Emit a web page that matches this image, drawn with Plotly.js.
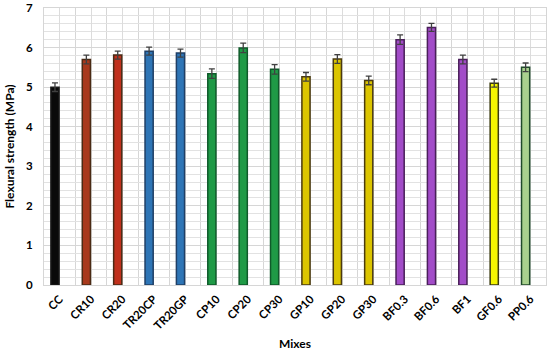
<!DOCTYPE html>
<html>
<head>
<meta charset="utf-8">
<script src="https://cdn.plot.ly/plotly-3.0.1.min.js"></script>
<style>html,body{margin:0;padding:0;background:#fff;}#chart{width:550px;height:351px;}</style>
</head>
<body>
<div id="chart"></div>
<script>
const categories = ["CC","CR10","CR20","TR20CP","TR20GP","CP10","CP20","CP30","GP10","GP20","GP30","BF0.3","BF0.6","BF1","GF0.6","PP0.6"];
const strength = [5.0, 5.70, 5.81, 5.91, 5.86, 5.34, 5.99, 5.45, 5.26, 5.71, 5.17, 6.20, 6.51, 5.70, 5.10, 5.50];
const errors = [0.11, 0.11, 0.10, 0.10, 0.10, 0.12, 0.12, 0.12, 0.11, 0.11, 0.11, 0.12, 0.10, 0.11, 0.10, 0.11];
const fillColors = ["#0a0a0a","#a8391c","#c0301c","#2e75b6","#2e75b6","#1f9a46","#1f9a46","#1f9a46","#dcc500","#dcc500","#dcc500","#a24cc8","#a24cc8","#a24cc8","#f5f500","#a9d18e"];
const lineColors = ["#1a1a1a","#4a2a14","#4a2a14","#1f3f66","#1f3f66","#0f5a2a","#0f5a2a","#0f5a2a","#4a3a10","#4a3a10","#4a3a10","#4a1f5a","#4a1f5a","#4a1f5a","#3a3a10","#1f4a2a"];

const xIndex = categories.map((c, i) => i);
const font = "Lato, 'Open Sans', sans-serif";

const trace = {
  type: "bar",
  x: xIndex,
  y: strength,
  width: 0.26,
  offset: -0.28,
  marker: {color: fillColors, line: {color: lineColors, width: 1.5}},
  error_y: {type: "data", array: errors, visible: true, color: "#404040", thickness: 1.3, width: 3},
  hoverinfo: "none"
};

const layout = {
  width: 550, height: 351,
  margin: {l: 44, r: 4, t: 8, b: 66},
  paper_bgcolor: "#ffffff",
  plot_bgcolor: "#ffffff",
  showlegend: false,
  bargap: 0,
  xaxis: {
    type: "linear",
    range: [-0.5, categories.length - 0.5],
    tickmode: "array",
    tickvals: xIndex,
    ticktext: categories,
    tickangle: -45,
    tickfont: {family: font, size: 11.5, color: "#000", weight: "bold"},
    ticks: "",
    ticklabelstandoff: 2,
    showgrid: true, gridcolor: "#dcdcdc", gridwidth: 1,
    minor: {tick0: -0.5, dtick: 1, showgrid: true, gridcolor: "#d6d6d6", gridwidth: 1, ticks: ""},
    showline: true, linecolor: "#d6d6d6", linewidth: 1, mirror: true,
    zeroline: false,
    fixedrange: true,
    automargin: false,
    title: {text: "Mixes", font: {family: font, size: 12, color: "#000", weight: "bold"}, standoff: 10}
  },
  yaxis: {
    range: [0, 7],
    dtick: 1,
    tick0: 0,
    tickfont: {family: font, size: 11.5, color: "#000", weight: "bold"},
    ticks: "",
    ticklabelstandoff: 8,
    showgrid: true, gridcolor: "#d6d6d6", gridwidth: 1,
    minor: {dtick: 0.2, showgrid: true, gridcolor: "#e2e2e2", gridwidth: 1, ticks: ""},
    showline: true, linecolor: "#d6d6d6", linewidth: 1, mirror: true,
    zeroline: false,
    fixedrange: true,
    automargin: false,
    title: {text: "Flexural strength (MPa)", font: {family: font, size: 12, color: "#000", weight: "bold"}, standoff: 8}
  }
};

Plotly.newPlot("chart", [trace], layout, {displayModeBar: false, staticPlot: true});
</script>
</body>
</html>
